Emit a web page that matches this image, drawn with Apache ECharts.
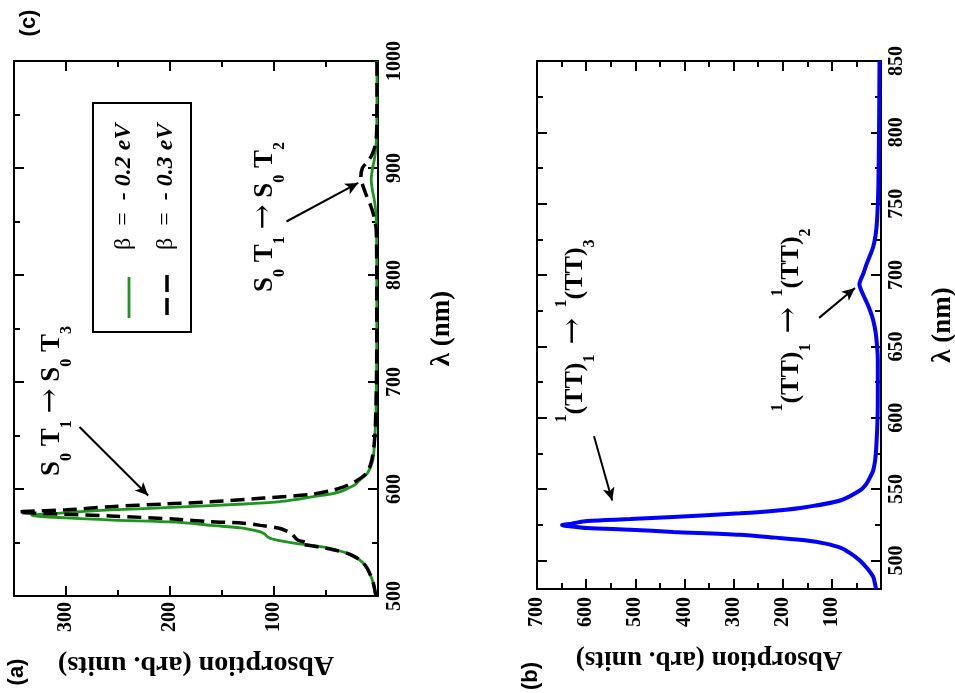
<!DOCTYPE html>
<html>
<head>
<meta charset="utf-8">
<script src="https://cdn.jsdelivr.net/npm/echarts@6/dist/echarts.min.js"></script>
<style>
  html, body { margin: 0; padding: 0; background: #fff; }
  #chart { width: 955px; height: 693px; }
</style>
</head>
<body>
<div id="chart"></div>
<script>
// the figure is shown turned a quarter turn: wavelength runs up, absorption runs left

// panel (a), beta = -0.2 eV (green)
var greenWl = [500, 505, 510, 515, 520, 526, 530, 534, 537, 540,
  543, 545, 547, 549.5, 552, 554, 556, 558, 560, 562,
  563.5, 566, 569, 571, 573, 575.3, 577.5, 580.4, 583, 586,
  588, 590, 592.5, 595, 597.5, 601, 604, 608, 615, 627,
  649, 670, 700, 750, 800, 840, 850, 860, 870, 880,
  889, 898, 908, 917, 930, 950, 975, 1000];
var greenAbs = [2, 3, 4, 5.5, 7.5, 10.5, 13.5, 18, 23, 30,
  40, 48, 62, 81, 96, 104, 107, 109, 113, 122,
  130, 160, 195, 255, 300, 333, 305, 257, 193, 129,
  96, 80, 65, 47, 36, 28, 22, 18, 10, 5,
  3, 2, 1.5, 1.2, 1.2, 1.4, 1.6, 2.2, 3.5, 5.5,
  6.5, 5.5, 3.5, 2.2, 1.4, 1.1, 1, 1];

// panel (a), beta = -0.3 eV (black dashed)
var dashWl = [500, 505, 510, 515, 520, 526, 530, 534, 537, 540,
  543, 545, 547, 548.5, 550, 551.5, 553, 556, 559, 563.5,
  566, 568, 569.5, 571.7, 574.8, 577, 578.5, 580.5, 583.5, 586,
  588, 591.5, 595, 598.5, 602, 605, 608, 615, 627, 650,
  700, 750, 800, 835, 845, 858, 866, 873, 882, 891,
  900, 906, 912, 920, 930, 950, 975, 1000];
var dashAbs = [2, 3, 4, 5.5, 7.5, 10.5, 13.5, 18, 23, 30,
  42, 52, 64, 73, 70, 75, 78, 81, 84, 96,
  113, 129, 163, 193, 257, 320, 346, 300, 257, 205,
  161, 110, 65, 45, 33, 26, 20, 11, 6, 3,
  1.5, 1.2, 1.2, 1.5, 2, 4.8, 7.5, 10.6, 14, 16.5,
  15, 10, 6, 3, 1.5, 1.1, 1, 1];

// panel (b), blue
var blueWl = [480, 484, 488.6, 494, 500, 505, 509, 512, 514, 516,
  518, 520, 521.5, 522.7, 523.8, 524.8, 525.8, 527.7, 529, 530.5,
  533, 535, 537.5, 542, 549, 553, 558.5, 563, 570, 580,
  600, 620, 640, 650, 660, 668.5, 675, 680.4, 686, 690,
  693.5, 697, 701, 708.5, 714, 719.7, 728, 738.6, 760, 800, 850];
var blueAbs = [10, 12.5, 16, 27, 43, 62, 83, 115, 151, 215,
  287, 423, 510, 598, 630, 649, 630, 598, 510, 423,
  287, 210, 151, 83, 43, 31, 22, 16, 12, 9.5,
  7, 6.5, 6.5, 8, 11, 16, 22, 28.5, 36, 41,
  44, 41, 36, 28.5, 22, 16, 11, 8, 5.5, 4, 3];

// ticks
var absMajorA = [0, 100, 200, 300];
var absLabelsA = [100, 200, 300];
var absMinorA = [50, 150, 250];
var wlMajorA = [500, 600, 700, 800, 900, 1000];
var wlMinorA = [550, 650, 750, 850, 950];
var absMajorB = [0, 100, 200, 300, 400, 500, 600, 700];
var absLabelsB = [100, 200, 300, 400, 500, 600, 700];
var absMinorB = [50, 150, 250, 350, 450, 550, 650];
var wlMajorB = [500, 550, 600, 650, 700, 750, 800, 850];
var wlMinorB = [525, 575, 625, 675, 725, 775, 825];

// arrows: [abs tail, wl tail, abs head, wl head]
var arrowsA = [[287, 658, 221, 594], [88, 850, 19, 886]];
var arrowsB = [[584, 587, 547, 542], [126, 670, 53, 691]];

var serif = 'Liberation Serif';
var sans = 'Liberation Sans';

function valAxis(grid, pos, min, max, inverse, ticks, len, showLine, label, name) {
  var ax = {
    type: 'value', gridIndex: grid, position: pos, min: min, max: max, inverse: inverse,
    splitLine: { show: false },
    axisLine: { show: showLine, onZero: false, lineStyle: { color: '#000', width: 2 } },
    axisTick: { show: true, inside: true, length: len, customValues: ticks, lineStyle: { color: '#000', width: 2 } },
    axisLabel: { show: false }
  };
  if (label) ax.axisLabel = label;
  if (name) Object.assign(ax, name);
  return ax;
}

function tickLabels(values, margin) {
  return { show: true, customValues: values, rotate: 90, margin: margin, color: '#000',
    fontFamily: serif, fontWeight: 'bold', fontSize: 20,
    formatter: function (v) { return String(v); } };
}

function absName(gap, size) {
  return { name: 'Absorption (arb. units)', nameLocation: 'middle', nameRotate: 180, nameGap: gap,
    nameTextStyle: { color: '#000', fontFamily: serif, fontWeight: 'bold', fontSize: size } };
}

function wlName(gap) {
  return { name: 'λ (nm)', nameLocation: 'middle', nameRotate: 90, nameGap: gap,
    nameTextStyle: { color: '#000', fontFamily: serif, fontWeight: 'bold', fontSize: 27 } };
}

function pairs(wl, ab) {
  return wl.map(function (w, i) { return [ab[i], w]; });
}

function arrowLines(list) {
  return {
    silent: true, animation: false, symbol: ['none', 'arrow'], symbolSize: [9, 13],
    label: { show: false }, emphasis: { disabled: true },
    lineStyle: { color: '#000', width: 2, type: 'solid' },
    data: list.map(function (a) { return [{ coord: [a[0], a[1]] }, { coord: [a[2], a[3]] }]; })
  };
}

function rotText(x, y, text, size, family, weight, align) {
  return { type: 'text', x: x, y: y, rotation: Math.PI / 2, z: 100,
    style: { text: text, fill: '#000', fontSize: size, fontFamily: family, fontWeight: weight,
      align: align || 'center', verticalAlign: 'middle' } };
}

// S0T1 -> S0Tn labels
var stRich = {
  m: { fontFamily: serif, fontWeight: 'bold', fontSize: 27, verticalAlign: 'top', padding: [0, 0, 0, 0] },
  a: { fontFamily: 'DejaVu Serif', fontWeight: 'normal', fontSize: 30, verticalAlign: 'top', padding: [-3, 0, 0, 0] },
  s: { fontFamily: serif, fontWeight: 'bold', fontSize: 16, verticalAlign: 'top', padding: [20, 0, 0, 0] }
};
// 1(TT)1 -> 1(TT)n labels
var ttRich = {
  p: { fontFamily: serif, fontWeight: 'bold', fontSize: 16, verticalAlign: 'top', padding: [0, 0, 0, 0] },
  m: { fontFamily: serif, fontWeight: 'bold', fontSize: 26, verticalAlign: 'top', padding: [8, 0, 0, 0] },
  a: { fontFamily: 'DejaVu Serif', fontWeight: 'normal', fontSize: 32, verticalAlign: 'top', padding: [4, 0, 0, 0] },
  s: { fontFamily: serif, fontWeight: 'bold', fontSize: 16, verticalAlign: 'top', padding: [28, 0, 0, 0] }
};
var legRich = {
  r: { fontFamily: serif, fontSize: 24 },
  b: { fontFamily: serif, fontSize: 24, fontWeight: 'bold', fontStyle: 'italic' }
};

function richText(x, y, text, rich, align) {
  var t = rotText(x, y, text, 22, serif, 'bold', align);
  t.style.rich = rich;
  return t;
}

var chart = echarts.init(document.getElementById('chart'), null, { renderer: 'canvas' });

var option = {
  animation: false,
  backgroundColor: '#fff',
  grid: [
    { left: 14, top: 61, width: 364, height: 535, outerBoundsMode: 'none' },
    { left: 14, top: 61, width: 364, height: 535, outerBoundsMode: 'none' },
    { left: 537, top: 61, width: 344, height: 528, outerBoundsMode: 'none' },
    { left: 537, top: 61, width: 344, height: 528, outerBoundsMode: 'none' }
  ],
  xAxis: [
    valAxis(0, 'bottom', 0, 350, true, absMajorA, 10, true, tickLabels(absLabelsA, 6), absName(54, 28)),
    valAxis(0, 'top', 0, 350, true, absMajorA, 10, true),
    valAxis(1, 'bottom', 0, 350, true, absMinorA, 6, false),
    valAxis(1, 'top', 0, 350, true, absMinorA, 6, false),
    valAxis(2, 'bottom', 0, 700, true, absMajorB, 10, true, tickLabels(absLabelsB, 8), absName(56, 27)),
    valAxis(2, 'top', 0, 700, true, absMajorB, 10, true),
    valAxis(3, 'bottom', 0, 700, true, absMinorB, 6, false),
    valAxis(3, 'top', 0, 700, true, absMinorB, 6, false)
  ],
  yAxis: [
    valAxis(0, 'right', 500, 1000, false, wlMajorA, 10, true, tickLabels(wlMajorA, 7), wlName(51)),
    valAxis(0, 'left', 500, 1000, false, wlMajorA, 10, true),
    valAxis(1, 'right', 500, 1000, false, wlMinorA, 6, false),
    valAxis(1, 'left', 500, 1000, false, wlMinorA, 6, false),
    valAxis(2, 'right', 480, 850, false, wlMajorB, 10, true, tickLabels(wlMajorB, 6), wlName(49)),
    valAxis(2, 'left', 480, 850, false, wlMajorB, 10, true),
    valAxis(3, 'right', 480, 850, false, wlMinorB, 6, false),
    valAxis(3, 'left', 480, 850, false, wlMinorB, 6, false)
  ],
  series: [
    {
      name: 'β = -0.2 eV', type: 'line', xAxisIndex: 0, yAxisIndex: 0,
      data: pairs(greenWl, greenAbs), showSymbol: false, smooth: 0.3, z: 3,
      lineStyle: { color: '#1e961e', width: 2.8 },
      markLine: arrowLines(arrowsA)
    },
    {
      name: 'β = -0.3 eV', type: 'line', xAxisIndex: 0, yAxisIndex: 0,
      data: pairs(dashWl, dashAbs), showSymbol: false, smooth: 0.3, z: 4,
      lineStyle: { color: '#000', width: 3.5, type: [14, 7] }
    },
    {
      name: 'blue', type: 'line', xAxisIndex: 4, yAxisIndex: 4,
      data: pairs(blueWl, blueAbs), showSymbol: false, smooth: 0.3, z: 3,
      lineStyle: { color: '#0000ff', width: 4 },
      markLine: arrowLines(arrowsB)
    }
  ],
  graphic: [
    rotText(29, 23, '(c)', 22, sans, 'bold'),
    rotText(17, 672, '(a)', 22, sans, 'bold'),
    rotText(531, 676, '(b)', 22, sans, 'bold'),
    richText(57, 401, '{m|S}{s|0}{m| T}{s|1}{m| }{a|→}{m| S}{s|0}{m| T}{s|3}', stRich),
    richText(270, 217, '{m|S}{s|0}{m| T}{s|1}{m| }{a|→}{m| S}{s|0}{m| T}{s|2}', stRich),
    richText(576, 331, '{p|1}{m|(TT)}{s|1}{a| → }{p|1}{m|(TT)}{s|3}', ttRich),
    richText(792, 320, '{p|1}{m|(TT)}{s|1}{a| → }{p|1}{m|(TT)}{s|2}', ttRich),
    { type: 'rect', shape: { x: 93, y: 103, width: 98, height: 229 },
      style: { fill: '#fff', stroke: '#000', lineWidth: 2 } },
    { type: 'line', shape: { x1: 129, y1: 277, x2: 129, y2: 318 },
      style: { stroke: '#1e961e', lineWidth: 2.8 } },
    { type: 'line', shape: { x1: 167, y1: 275, x2: 167, y2: 316 },
      style: { stroke: '#000', lineWidth: 3.5, lineDash: [17, 6] } },
    richText(124, 250, '{r|β  =  }{b|- 0.2 eV}', legRich, 'left'),
    richText(166, 250, '{r|β  =  }{b|- 0.3 eV}', legRich, 'left')
  ]
};
option.graphic.forEach(function (g, i) { g.z = 100 + i; });

chart.setOption(option);
</script>
</body>
</html>
